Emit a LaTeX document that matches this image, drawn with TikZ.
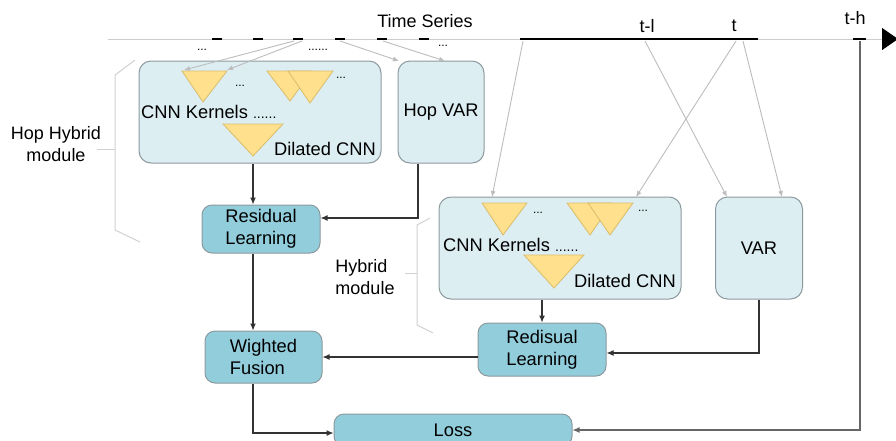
\documentclass[tikz,border=0pt]{standalone}
\usepackage{fontspec}
\setmainfont{Liberation Sans}
\usetikzlibrary{arrows.meta,positioning}
\definecolor{boxlight}{HTML}{DDEEF3}
\definecolor{boxdark}{HTML}{92CDDC}
\definecolor{boxedge}{HTML}{8C9A9F}
\definecolor{kernfill}{HTML}{FFE08C}
\definecolor{kernedge}{HTML}{D9BC6C}
\definecolor{feedgray}{HTML}{BDBDBD}
\tikzset{
  lightbox/.style={draw=boxedge, fill=boxlight, rounded corners=12pt, line width=1pt},
  darkbox/.style={draw=boxedge, fill=boxdark, rounded corners=10pt, line width=1pt,
    align=left, font=\fontsize{18.3}{22}\selectfont},
  kernel/.style={draw=kernedge, fill=kernfill, line width=0.8pt},
  feed/.style={draw=feedgray, line width=0.9pt, -{Latex[length=6pt,width=5pt]}},
  flow/.style={draw=black!80, line width=1.1pt, -{Latex[length=7pt,width=6pt]}},
  brace/.style={draw=black!18, line width=1pt},
  lbl/.style={font=\fontsize{18.3}{22}\selectfont, inner sep=0pt},
  small/.style={font=\fontsize{18}{22}\selectfont, align=center, inner sep=0pt},
  dots/.style={font=\fontsize{12}{12}\selectfont, inner sep=0pt},
}
\begin{document}
\begin{tikzpicture}[x=1pt, y=-1pt]
        \clip (0,0) rectangle (896,440);
        \fill[white] (0,0) rectangle (896,440);

        % time axis
        \draw[black!20, line width=1pt, -{Triangle[length=16pt,width=22pt,black]}] (108,39) -- (898,39);
        \draw[black, line width=2.2pt] (520,39) -- (758,39);
        \foreach \x in {212,253,293,335,377,419} {
            \draw[black, line width=2.4pt] (\x,39) -- ++(10,0);
        }
        \draw[black, line width=2.4pt] (853,39) -- (866,39);
        \node[small] (ts) at (425,21) {Time Series};
        \node[small] (tl) at (647,26) {t-l};
        \node[small] (tt) at (734,26) {t};
        \node[small] (th) at (855,18) {t-h};
        \node[dots] (d1) at (202,50) {...};
        \node[dots] (d2) at (318,50) {......};
        \node[dots] (d3) at (443,46) {...};

        \coordinate (s3a) at (294,41);
        \coordinate (s3b) at (302,41);
        \coordinate (s4) at (340,41);
        \coordinate (s5) at (383,41);
        \coordinate (s6) at (523,41);
        \coordinate (stl) at (645,41);
        \coordinate (sta) at (736,41);
        \coordinate (stb) at (743,41);
        \coordinate (sth) at (860,41);

        % hop hybrid module
        \node[lightbox, minimum width=242pt, minimum height=102pt] (hop) at (260,112) {};
        \node[lightbox, minimum width=86pt, minimum height=102pt, font=\fontsize{18.3}{22}\selectfont] (hopvar) at (441,112) {Hop VAR};
        \draw[kernel] (182,71) -- (227,71) -- (203,102) -- cycle;
        \draw[kernel] (267,71) -- (312,71) -- (290,101) -- cycle;
        \draw[kernel] (288,71) -- (333,71) -- (310,103) -- cycle;
        \draw[kernel] (223,124) -- (283,124) -- (253,156) -- cycle;
        \coordinate (hk1) at (184,70);
        \coordinate (hk2) at (227,70);
        \coordinate (hdil) at (253,156);
        \node[dots] (hd1) at (240,86) {...};
        \node[dots] (hd2) at (341,78) {...};
        \node[lbl, anchor=west] (hker) at (141,112) {CNN Kernels {\fontsize{14}{14}\selectfont ......}};
        \node[lbl, anchor=east] (hdcnn) at (376,149) {Dilated CNN};

        \draw[brace] (135,60) -- (115,75) -- (115,230) -- (140,242);
        \draw[brace] (97,149) -- (115,149);
        \node[small] (hoplbl) at (56,144) {Hop Hybrid\\module};

        \draw[feed] (s3a) -- (hk1);
        \draw[feed] (s3b) -- (hk2);
        \draw[feed] (s4) -- (399,61);
        \draw[feed] (s5) -- (445,61);

        % hybrid module
        \node[lightbox, minimum width=242pt, minimum height=102pt] (hyb) at (560,248) {};
        \node[lightbox, minimum width=87pt, minimum height=102pt, font=\fontsize{18.3}{22}\selectfont] (var) at (759,248) {VAR};
        \draw[kernel] (482,203) -- (527,203) -- (503,235) -- cycle;
        \draw[kernel] (567,203) -- (612,203) -- (590,235) -- cycle;
        \draw[kernel] (588,203) -- (633,203) -- (610,235) -- cycle;
        \draw[kernel] (524,255) -- (584,255) -- (554,288) -- cycle;
        \node[dots] (yd1) at (538,213) {...};
        \node[dots] (yd2) at (643,211) {...};
        \node[lbl, anchor=west] (yker) at (443,245) {CNN Kernels {\fontsize{14}{14}\selectfont ......}};
        \node[lbl, anchor=east] (ydcnn) at (676,281) {Dilated CNN};

        \draw[brace] (430,218) -- (417,225) -- (417,325) -- (433,333);
        \draw[brace] (405,273) -- (417,273);
        \node[small, align=left] (hyblbl) at (365,277) {Hybrid\\module};

        \draw[feed] (s6) -- (492,197);
        \draw[feed] (sta) -- (636,197);
        \draw[feed] (stl) -- (727,197);
        \draw[feed] (stb) -- (782,197);

        % learning and fusion
        \node[darkbox, minimum width=118pt, minimum height=48pt] (res) at (261,229) {Residual\\Learning};
        \node[darkbox, minimum width=128pt, minimum height=53pt] (red) at (542,349.5) {Redisual\\Learning};
        \node[darkbox, minimum width=117pt, minimum height=52pt] (wf) at (263.5,357) {Wighted\\Fusion};
        \node[darkbox, minimum width=238pt, minimum height=32pt] (loss) at (453,430) {Loss};

        \draw[flow] (hop.south -| hdil) -- (res.north -| hdil);
        \draw[flow] ([xshift=-23pt]hopvar.south) |- ([yshift=11pt]res.east);
        \draw[flow] (res.south -| hdil) -- (wf.north -| hdil);
        \draw[flow] (hyb.south -| red.north) -- (red.north);
        \draw[flow] (var.south) |- ([yshift=-3.5pt]red.east);
        \draw[flow] (red.west |- wf.east) -- (wf.east);
        \draw[flow] (wf.south -| hdil) |- ([yshift=-3pt]loss.west);
        \draw[flow, draw=black!60] (sth) |- (loss.east);
    \end{tikzpicture}
\end{document}
